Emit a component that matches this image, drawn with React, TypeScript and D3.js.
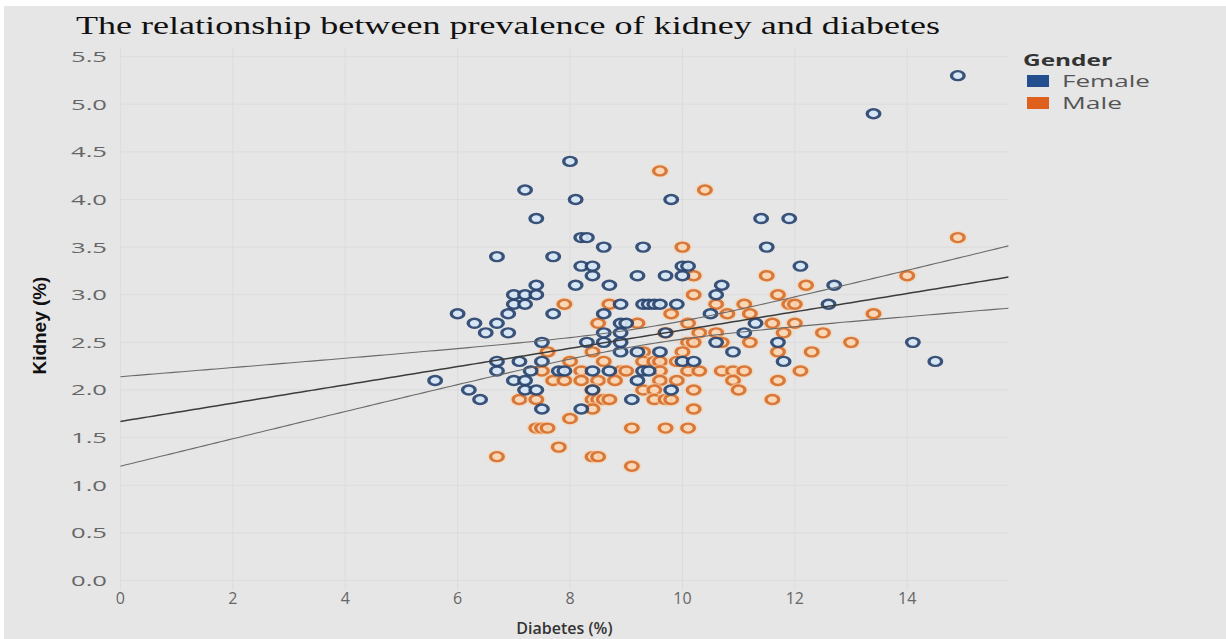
import React from "react";
import * as d3 from "d3";

// Diabetes (%) vs kidney disease (%) prevalence, split by gender.
const femalePoints: [number, number][] = [
  [8.0, 4.4], [7.2, 4.1], [8.1, 4.0], [9.8, 4.0], [7.4, 3.8], [11.4, 3.8], [11.9, 3.8],
  [8.2, 3.6], [8.3, 3.6], [8.6, 3.5], [9.3, 3.5], [11.5, 3.5], [6.7, 3.4], [7.7, 3.4],
  [8.2, 3.3], [8.4, 3.3], [10.0, 3.3], [10.1, 3.3], [12.1, 3.3], [8.4, 3.2], [9.2, 3.2],
  [9.7, 3.2], [10.0, 3.2], [7.4, 3.1], [8.1, 3.1], [8.7, 3.1], [10.7, 3.1], [12.7, 3.1],
  [7.0, 3.0], [7.2, 3.0], [7.4, 3.0], [10.6, 3.0], [7.0, 2.9], [7.2, 2.9], [8.9, 2.9],
  [9.3, 2.9], [9.4, 2.9], [9.5, 2.9], [9.6, 2.9], [9.9, 2.9], [12.6, 2.9], [6.0, 2.8],
  [6.9, 2.8], [7.7, 2.8], [8.6, 2.8], [10.5, 2.8], [6.3, 2.7], [6.7, 2.7], [8.9, 2.7],
  [9.0, 2.7], [11.3, 2.7], [6.5, 2.6], [6.9, 2.6], [8.6, 2.6], [8.9, 2.6], [9.7, 2.6],
  [11.1, 2.6], [7.5, 2.5], [8.3, 2.5], [8.6, 2.5], [8.9, 2.5], [10.6, 2.5], [11.7, 2.5],
  [14.1, 2.5], [8.9, 2.4], [9.2, 2.4], [9.6, 2.4], [10.9, 2.4], [6.7, 2.3], [7.1, 2.3],
  [7.5, 2.3], [10.0, 2.3], [10.2, 2.3], [11.8, 2.3], [14.5, 2.3], [6.7, 2.2], [7.3, 2.2],
  [7.8, 2.2], [7.9, 2.2], [8.4, 2.2], [8.7, 2.2], [9.3, 2.2], [9.4, 2.2], [5.6, 2.1],
  [7.0, 2.1], [7.2, 2.1], [9.2, 2.1], [6.2, 2.0], [7.2, 2.0], [7.4, 2.0], [8.4, 2.0],
  [9.8, 2.0], [6.4, 1.9], [9.1, 1.9], [7.5, 1.8], [8.2, 1.8], [13.4, 4.9], [14.9, 5.3],
];

const malePoints: [number, number][] = [
  [9.6, 4.3], [10.4, 4.1], [10.0, 3.5], [14.9, 3.6], [10.2, 3.2], [11.5, 3.2], [14.0, 3.2],
  [12.2, 3.1], [10.2, 3.0], [11.7, 3.0], [7.9, 2.9], [8.7, 2.9], [10.6, 2.9], [11.1, 2.9],
  [11.9, 2.9], [12.0, 2.9], [9.8, 2.8], [10.8, 2.8], [11.2, 2.8], [13.4, 2.8], [8.5, 2.7],
  [9.2, 2.7], [10.1, 2.7], [11.6, 2.7], [12.0, 2.7], [9.7, 2.6], [10.3, 2.6], [10.6, 2.6],
  [11.8, 2.6], [12.5, 2.6], [10.1, 2.5], [10.2, 2.5], [10.7, 2.5], [11.2, 2.5], [13.0, 2.5],
  [7.6, 2.4], [8.4, 2.4], [9.3, 2.4], [10.0, 2.4], [11.7, 2.4], [12.3, 2.4], [8.0, 2.3],
  [8.6, 2.3], [9.3, 2.3], [9.5, 2.3], [9.6, 2.3], [9.9, 2.3], [7.5, 2.2], [8.2, 2.2],
  [8.9, 2.2], [9.0, 2.2], [9.6, 2.2], [10.1, 2.2], [10.3, 2.2], [10.7, 2.2], [10.9, 2.2],
  [11.1, 2.2], [12.1, 2.2], [7.7, 2.1], [7.9, 2.1], [8.2, 2.1], [8.5, 2.1], [8.8, 2.1],
  [9.6, 2.1], [9.9, 2.1], [10.9, 2.1], [11.7, 2.1], [8.4, 2.0], [9.3, 2.0], [9.5, 2.0],
  [10.2, 2.0], [11.0, 2.0], [7.1, 1.9], [7.4, 1.9], [8.4, 1.9], [8.5, 1.9], [8.6, 1.9],
  [8.7, 1.9], [9.5, 1.9], [9.7, 1.9], [9.8, 1.9], [11.6, 1.9], [8.4, 1.8], [10.2, 1.8],
  [8.0, 1.7], [7.4, 1.6], [7.5, 1.6], [7.6, 1.6], [9.1, 1.6], [9.7, 1.6], [10.1, 1.6],
  [7.8, 1.4], [6.7, 1.3], [8.4, 1.3], [8.5, 1.3], [9.1, 1.2],
];

const xTicks = [0, 2, 4, 6, 8, 10, 12, 14];
const yTicks = [0, 0.5, 1, 1.5, 2, 2.5, 3, 3.5, 4, 4.5, 5, 5.5];
const genders = ["Female", "Male"];

const W = 1226;
const H = 639;
const X_DOMAIN: [number, number] = [0, 15.8];
const Y_DOMAIN: [number, number] = [-0.1, 5.6];

const palette = {
  Female: { legend: "#244f8f", stroke: "#2b4670", fill: "#d6e6f6" },
  Male: { legend: "#df5f1c", stroke: "#d6702e", fill: "#fbd6b4" },
} as const;

const tickFont = "'Open Sans', 'DejaVu Sans', sans-serif";

export default function App() {
  const x = d3.scaleLinear().domain(X_DOMAIN).range([120.4, 1008.4]);
  const y = d3.scaleLinear().domain(Y_DOMAIN).range([590, 47.1]);

  // Linear trend over all marks with a 95% confidence band for the mean.
  const all = [...femalePoints, ...malePoints];
  const n = all.length;
  const mx = d3.mean(all, (d) => d[0]) as number;
  const my = d3.mean(all, (d) => d[1]) as number;
  const sxx = d3.sum(all, (d) => (d[0] - mx) ** 2);
  const sxy = d3.sum(all, (d) => (d[0] - mx) * (d[1] - my));
  const slope = sxy / sxx;
  const intercept = my - slope * mx;
  const sse = d3.sum(all, (d) => (d[1] - (intercept + slope * d[0])) ** 2);
  const se = Math.sqrt(sse / (n - 2));
  const tCrit = 1.972;
  const fit = (v: number) => intercept + slope * v;
  const half = (v: number) => tCrit * se * Math.sqrt(1 / n + (v - mx) ** 2 / sxx);
  const xs = d3.range(X_DOMAIN[0], X_DOMAIN[1] + 0.001, 0.1);
  const line = d3
    .line<number>()
    .x((v) => x(v))
    .curve(d3.curveLinear);
  const mid = line.y((v) => y(fit(v)))(xs) as string;
  const upper = line.y((v) => y(fit(v) + half(v)))(xs) as string;
  const lower = line.y((v) => y(fit(v) - half(v)))(xs) as string;

  const mark = (p: [number, number], g: "Female" | "Male", i: number) => (
    <g key={g + i} transform={`translate(${x(p[0])},${y(p[1])}) scale(1.4,1)`}>
      {g === "Male" && <circle r={5.2} fill="none" stroke="#f9d2ae" strokeWidth={3.5} opacity={0.6} />}
      <circle r={4.5} fill={palette[g].fill} stroke={palette[g].stroke} strokeWidth={2.4} opacity={0.92} />
    </g>
  );

  return (
    <svg
      width={W}
      height={H}
      style={{ position: "absolute", left: 0, top: 0, display: "block" }}
    >
      <rect x={0} y={0} width={W} height={H} fill="#ffffff" />
      <rect x={4} y={6} width={W - 4} height={H - 6} fill="#e6e6e6" />

      {/* gridlines */}
      {yTicks.map((t) => (
        <line key={"gy" + t} x1={x(X_DOMAIN[0])} x2={x(X_DOMAIN[1])} y1={y(t)} y2={y(t)} stroke="#dcdcdc" strokeWidth={1} />
      ))}
      {xTicks.map((t) => (
        <line key={"gx" + t} x1={x(t)} x2={x(t)} y1={y(Y_DOMAIN[0])} y2={y(Y_DOMAIN[1])} stroke="#dcdcdc" strokeWidth={1} />
      ))}

      {/* title */}
      <text
        x={76}
        y={34}
        fontFamily="'Liberation Serif', 'Times New Roman', serif"
        fontSize={26}
        fill="#111"
        textLength={864}
        lengthAdjust="spacingAndGlyphs"
      >
        The relationship between prevalence of kidney and diabetes
      </text>

      {/* y tick labels */}
      {yTicks.map((t) => (
        <text
          key={"ly" + t}
          x={107}
          y={y(t)}
          dy="0.36em"
          textAnchor="end"
          fontFamily={tickFont}
          fontSize={15}
          fill="#666"
          textLength={36}
          lengthAdjust="spacingAndGlyphs"
        >
          {d3.format(".1f")(t)}
        </text>
      ))}

      {/* x tick labels */}
      {xTicks.map((t) => (
        <text
          key={"lx" + t}
          x={x(t)}
          y={604}
          textAnchor="middle"
          fontFamily={tickFont}
          fontSize={16}
          fill="#666"
        >
          {t}
        </text>
      ))}

      {/* axis titles */}
      <text
        x={x((X_DOMAIN[0] + X_DOMAIN[1]) / 2)}
        y={634}
        textAnchor="middle"
        fontFamily={tickFont}
        fontWeight={600}
        fontSize={16}
        fill="#333"
      >
        Diabetes (%)
      </text>
      <text
        transform={`translate(46,${(y(Y_DOMAIN[0]) + y(Y_DOMAIN[1])) / 2 + 7}) rotate(-90)`}
        textAnchor="middle"
        fontFamily="'Liberation Sans Narrow', 'Liberation Sans', Arial, sans-serif"
        fontWeight={700}
        fontSize={19}
        fill="#111"
        textLength={98}
        lengthAdjust="spacingAndGlyphs"
      >
        Kidney (%)
      </text>

      {/* marks */}
      {malePoints.map((p, i) => mark(p, "Male", i))}
      {femalePoints.map((p, i) => mark(p, "Female", i))}

      {/* trend line and confidence band */}
      <path d={upper} fill="none" stroke="#6a6a6a" strokeWidth={1.1} />
      <path d={lower} fill="none" stroke="#6a6a6a" strokeWidth={1.1} />
      <path d={mid} fill="none" stroke="#3c3c3c" strokeWidth={1.5} />

      {/* legend */}
      <text x={1023} y={66} fontFamily={tickFont} fontWeight={700} fontSize={16} fill="#333" textLength={89} lengthAdjust="spacingAndGlyphs">
        Gender
      </text>
      {genders.map((g, i) => (
        <g key={g} transform={`translate(1027,${75 + i * 22})`}>
          <rect width={22} height={12} fill={palette[g as "Female" | "Male"].legend} />
          <text
            x={35}
            y={12}
            fontFamily={tickFont}
            fontSize={17}
            fill="#555"
            textLength={g === "Female" ? 88 : 60}
            lengthAdjust="spacingAndGlyphs"
          >
            {g}
          </text>
        </g>
      ))}
    </svg>
  );
}
